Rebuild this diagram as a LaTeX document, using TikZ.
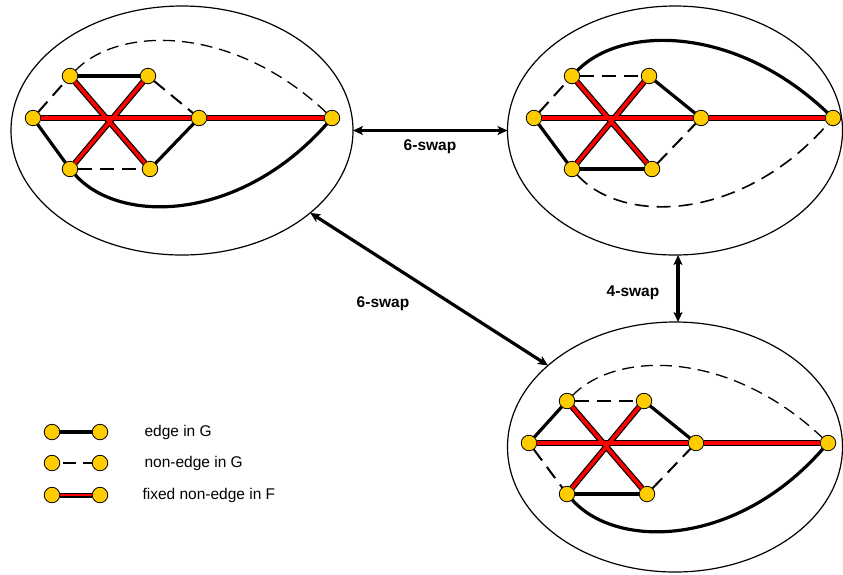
\documentclass[tikz,border=0pt]{standalone}
\usepackage{fontspec}
\setmainfont{Liberation Sans}
\usetikzlibrary{shapes.geometric,arrows.meta}
\definecolor{gold}{HTML}{FFCC00}
\definecolor{redfix}{HTML}{FF0000}
\tikzset{
  vtx/.style={circle,fill=gold,draw=black,line width=0.8pt,minimum size=15.5pt,inner sep=0pt,outer sep=0pt},
  oval/.style={ellipse,draw=black,line width=1.2pt,inner sep=0pt,outer sep=0pt},
  gedge/.style={line width=3.2pt,black},
  nedge/.style={line width=2pt,black,dash pattern=on 14pt off 8pt},
  ncurve/.style={line width=1.3pt,black,dash pattern=on 12pt off 7pt},
  redout/.style={line width=6pt,black},
  redin/.style={line width=3.6pt,redfix},
  swaparrow/.style={line width=3.2pt,{Stealth[length=10pt,width=9pt,inset=2.5pt]}-{Stealth[length=10pt,width=9pt,inset=2.5pt]}},
  lbl/.style={font=\fontsize{15.5}{18}\selectfont\bfseries},
  lgd/.style={font=\fontsize{15.5}{18}\selectfont,anchor=west},
}
\begin{document}
\begin{tikzpicture}[x=1pt,y=-1pt]
\useasboundingbox (0,0) rectangle (843,574);

% ovals
\node[oval,minimum width=342pt,minimum height=249pt] (e1) at (182,130.5) {};
\node[oval,minimum width=335pt,minimum height=249pt] (e2) at (675,130.5) {};
\node[oval,minimum width=335pt,minimum height=250pt] (e3) at (675,447) {};

% ---------- graph 1 ----------
\node[vtx] (a1) at (70,76) {};
\node[vtx] (b1) at (148,76) {};
\node[vtx] (c1) at (33,118) {};
\node[vtx] (d1) at (199,118) {};
\node[vtx] (x1) at (332,118) {};
\node[vtx] (f1) at (70,169) {};
\node[vtx] (g1) at (150,169) {};
\draw[gedge] (a1) -- (b1);
\draw[nedge] (b1) -- (d1);
\draw[nedge] (c1) -- (a1);
\draw[gedge] (c1) -- (f1);
\draw[nedge] (f1) -- (g1);
\draw[gedge] (g1) -- (d1);
\draw[ncurve] (a1) .. controls (120,25) and (234,25) .. (x1);
\draw[gedge] (f1) .. controls (120,225) and (240,222) .. (x1);
\draw[redout] (c1) -- (d1); \draw[redout] (d1) -- (x1);
\draw[redout] (a1) -- (g1); \draw[redout] (b1) -- (f1);
\draw[redin] (c1) -- (d1); \draw[redin] (d1) -- (x1);
\draw[redin] (a1) -- (g1); \draw[redin] (b1) -- (f1);

% ---------- graph 2 ----------
\node[vtx] (a2) at (572,76) {};
\node[vtx] (b2) at (649,76) {};
\node[vtx] (c2) at (534,118) {};
\node[vtx] (d2) at (701,118) {};
\node[vtx] (x2) at (833,118) {};
\node[vtx] (f2) at (572,169) {};
\node[vtx] (g2) at (652,169) {};
\draw[nedge] (a2) -- (b2);
\draw[gedge] (b2) -- (d2);
\draw[nedge] (c2) -- (a2);
\draw[gedge] (c2) -- (f2);
\draw[gedge] (f2) -- (g2);
\draw[nedge] (g2) -- (d2);
\draw[gedge] (a2) .. controls (622,25) and (735,25) .. (x2);
\draw[nedge,line width=1.6pt] (f2) .. controls (622,225) and (742,222) .. (x2);
\draw[redout] (c2) -- (d2); \draw[redout] (d2) -- (x2);
\draw[redout] (a2) -- (g2); \draw[redout] (b2) -- (f2);
\draw[redin] (c2) -- (d2); \draw[redin] (d2) -- (x2);
\draw[redin] (a2) -- (g2); \draw[redin] (b2) -- (f2);

% ---------- graph 3 ----------
\node[vtx] (a3) at (567,401) {};
\node[vtx] (b3) at (644,401) {};
\node[vtx] (c3) at (529,443) {};
\node[vtx] (d3) at (696,443) {};
\node[vtx] (x3) at (828,443) {};
\node[vtx] (f3) at (567,494) {};
\node[vtx] (g3) at (647,494) {};
\draw[nedge] (a3) -- (b3);
\draw[gedge] (b3) -- (d3);
\draw[gedge] (c3) -- (a3);
\draw[nedge] (c3) -- (f3);
\draw[gedge] (f3) -- (g3);
\draw[nedge] (g3) -- (d3);
\draw[ncurve] (a3) .. controls (617,350) and (730,350) .. (x3);
\draw[gedge] (f3) .. controls (617,550) and (737,547) .. (x3);
\draw[redout] (c3) -- (d3); \draw[redout] (d3) -- (x3);
\draw[redout] (a3) -- (g3); \draw[redout] (b3) -- (f3);
\draw[redin] (c3) -- (d3); \draw[redin] (d3) -- (x3);
\draw[redin] (a3) -- (g3); \draw[redin] (b3) -- (f3);

% ---------- swaps ----------
\draw[swaparrow] (e1.east) -- (e2.west);
\node[lbl] (s1) at (430,147) {6-swap};
\draw[swaparrow] (e1) -- (e3);
\node[lbl] (s2) at (383,304) {6-swap};
\draw[swaparrow] ([xshift=3pt]e2.south) -- ([xshift=3pt]e3.north);
\node[lbl] (s3) at (633,293) {4-swap};

% ---------- legend ----------
\node[vtx] (l1a) at (52,432) {};
\node[vtx] (l1b) at (100,432) {};
\node[vtx] (l2a) at (52,463) {};
\node[vtx] (l2b) at (100,463) {};
\node[vtx] (l3a) at (52,495) {};
\node[vtx] (l3b) at (100,495) {};
\draw[gedge] (l1a) -- (l1b);
\draw[line width=2pt,dash pattern=on 13pt off 7pt,dash phase=-3pt] (l2a) -- (l2b);
\draw[redout,line width=5pt] (l3a) -- (l3b);
\draw[redin,line width=2.8pt] (l3a) -- (l3b);
\node[lgd] (t1) at (141,432) {edge in G};
\node[lgd] (t2) at (141,463) {non-edge in G};
\node[lgd] (t3) at (139,495) {fixed non-edge in F};
\end{tikzpicture}
\end{document}
